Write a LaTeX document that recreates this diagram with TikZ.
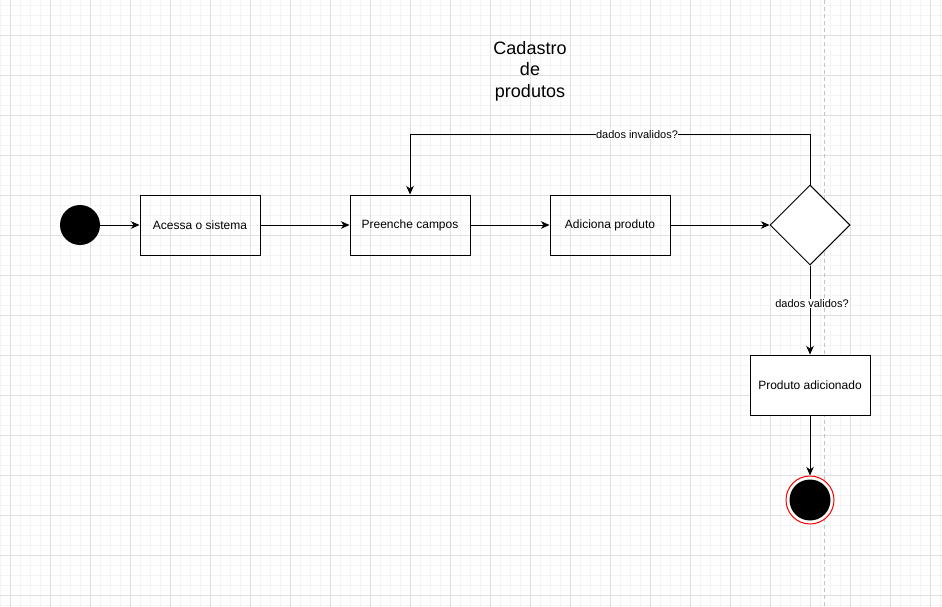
\documentclass[tikz,border=0pt]{standalone}
\usepackage{fontspec}
\setmainfont{Liberation Sans}
\usetikzlibrary{arrows.meta,shapes.geometric}
\definecolor{gridfino}{HTML}{F4F4F4}
\definecolor{gridforte}{HTML}{DFDFDF}
\definecolor{raia}{HTML}{C4C4C4}
\def\caixa{\node[acao]}
\tikzset{
  acao/.style={draw,line width=1pt,minimum width=120pt,minimum height=60pt,
    font=\fontsize{12}{14}\selectfont},
  fluxo/.style={line width=1pt,-{Stealth[length=8.5pt,width=7.5pt,inset=2.5pt]}},
  rotulo/.style={fill=white,inner sep=0.5pt,font=\fontsize{11}{13}\selectfont}
}

\begin{document}
\begin{tikzpicture}[x=1pt,y=-1pt]
    \useasboundingbox (0,0) rectangle (942,607);
    % grade de fundo
    \foreach \i in {0.5,10.5,...,940.5} \draw[gridfino,line width=1pt] (\i,0) -- (\i,607);
    \foreach \j in {5.5,15.5,...,605.5} \draw[gridfino,line width=1pt] (0,\j) -- (942,\j);
    \foreach \i in {10.5,50.5,...,930.5} \draw[gridforte,line width=1pt] (\i,0) -- (\i,607);
    \foreach \j in {35.5,75.5,...,595.5} \draw[gridforte,line width=1pt] (0,\j) -- (942,\j);
    \draw[raia,line width=1pt,dash pattern=on 4pt off 3pt] (824,0) -- (824,607);

    \node[align=center,font=\fontsize{18}{21.5}\selectfont] (titulo) at (530,71) {Cadastro\\de\\produtos};

    \node[circle,fill=black,minimum size=40pt,inner sep=0] (ini) at (80,225) {};
    \caixa (acessa)   at (200,225) {Acessa o sistema};
    \caixa (preenche) at (410,225) {Preenche campos};
    \caixa (adiciona) at (610,225) {Adiciona produto};
    \node[diamond,draw,line width=1pt,fill=white,minimum width=80pt,minimum height=80pt,
      aspect=1,inner sep=0] (dec) at (810,225) {};
    \caixa[fill=white] (produto) at (810,385) {Produto adicionado};
    \node[circle,draw=red,line width=1pt,fill=white,minimum size=48pt,inner sep=0] (fim) at (810,500) {};
    \fill (fim.center) circle (20.5);

    \draw[fluxo] (ini) -- (acessa);
    \draw[fluxo] (acessa) -- (preenche);
    \draw[fluxo] (preenche) -- (adiciona);
    \draw[fluxo] (adiciona) -- (dec);
    \draw[fluxo] (dec.north) -- ++(0,-50) coordinate (c1)
      -- node[rotulo,pos=0.4325] (linv) {dados invalidos?} (preenche.north |- c1) -- (preenche.north);
    \draw[fluxo] (dec.south) -- node[rotulo,pos=0.43,xshift=2pt] (lval) {dados validos?} (produto.north);
    \draw[fluxo] (produto) -- (fim);
\end{tikzpicture}
\end{document}
